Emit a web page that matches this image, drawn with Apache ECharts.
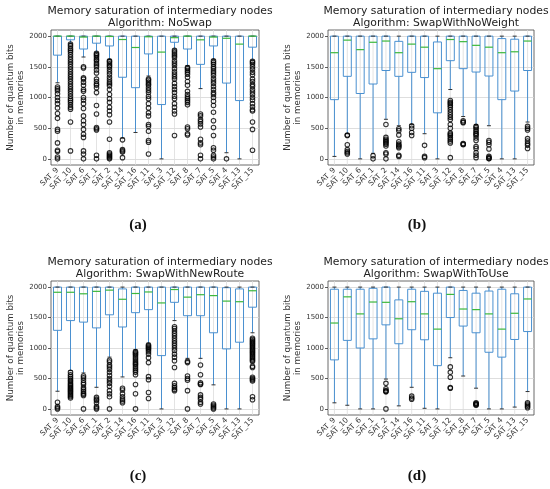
<!DOCTYPE html>
<html>
<head>
<meta charset="utf-8">
<script src="https://cdn.jsdelivr.net/npm/echarts@6/dist/echarts.min.js"></script>
<style>
  html, body { margin: 0; padding: 0; background: #fff; }
  #main { width: 550px; height: 489px; }
</style>
</head>
<body>
<div id="main"></div>
<script>
// satellites, in the order they appear on the x axis
const categories = ['SAT_9', 'SAT_10', 'SAT_6', 'SAT_1', 'SAT_2', 'SAT_14', 'SAT_16', 'SAT_11',
  'SAT_3', 'SAT_12', 'SAT_8', 'SAT_7', 'SAT_5', 'SAT_4', 'SAT_13', 'SAT_15'];
const algorithms = ['NoSwap', 'SwapWithNoWeight', 'SwapWithNewRoute', 'SwapWithToUse'];
const captions = ['(a)', '(b)', '(c)', '(d)'];
const yTicks = [0, 500, 1000, 1500, 2000];

// (a) NoSwap
const lowA = [1240, 1880, 1660, 1740, 1620, 340, 430, 1350, 0, 1790, 1520, 1145, 1620, 100, 0, 1610];
const q1A = [1690, 1940, 1790, 1885, 1840, 1330, 1160, 1710, 885, 1900, 1790, 1540, 1840, 1235, 950, 1820];
const medA = [2000, 2000, 1985, 2000, 1995, 1945, 1815, 1990, 1740, 1975, 2000, 1940, 1985, 1965, 1870, 2000];
const q3A = [2000, 2000, 2000, 2000, 2000, 2000, 2000, 2000, 2000, 2000, 2000, 2000, 2000, 2000, 2000, 2000];
const highA = [2000, 2000, 2000, 2000, 2000, 2000, 2000, 2000, 2000, 2000, 2000, 2000, 2000, 2000, 2000, 2000];
const outA = [
  [1170, 1140, 1110, 1060, 1000, 950, 900, 830, 740, 660, 480, 450, 260, 140, 120, 30, 0],
  [1870, 1840, 1800, 1770, 1740, 1700, 1660, 1620, 1580, 1540, 1500, 1460, 1420, 1380, 1340, 1300, 1260,
    1220, 1180, 1140, 1100, 1060, 1020, 980, 950, 920, 880, 840, 810, 600, 130],
  [1500, 1480, 1320, 1300, 1250, 1200, 1130, 1100, 1000, 960, 900, 820, 700, 620, 560, 480, 400, 350, 130, 80, 0],
  [1720, 1700, 1680, 1650, 1620, 1600, 1560, 1530, 1500, 1450, 1400, 1300, 1260, 1220, 1200, 1160, 1080,
    870, 730, 510, 490, 470, 60, 0],
  [1600, 1580, 1550, 1520, 1500, 1460, 1420, 1380, 1330, 1290, 1250, 1220, 1190, 1130, 1050, 980, 920,
    840, 780, 720, 600, 320, 100, 80, 60, 40, 20, 0],
  [310, 150, 130, 110, 20],
  [],
  [1300, 1280, 1250, 1220, 1200, 1160, 1120, 1080, 1020, 980, 900, 830, 750, 700, 560, 530, 450, 300, 270, 80],
  [],
  [1770, 1740, 1710, 1680, 1650, 1600, 1560, 1520, 1470, 1420, 1380, 1340, 1300, 1230, 1180, 1130, 1080,
    1020, 980, 900, 840, 780, 730, 380],
  [1490, 1470, 1440, 1410, 1380, 1330, 1260, 1200, 1100, 1050, 1010, 980, 950, 920, 880, 520, 490, 410, 390],
  [730, 700, 640, 610, 570, 520, 320, 260, 230, 60, 0],
  [1600, 1570, 1540, 1500, 1470, 1430, 1400, 1360, 1310, 1270, 1230, 1180, 1130, 1080, 1050, 1000, 940,
    870, 760, 620, 510, 380, 180, 140, 60, 30, 0],
  [0],
  [],
  [1590, 1570, 1540, 1500, 1460, 1410, 1370, 1300, 1260, 1210, 1180, 1130, 1090, 1050, 1000, 960, 900,
    850, 800, 780, 600, 480, 140]
];

// (b) SwapWithNoWeight
const lowB = [40, 410, 0, 90, 645, 540, 560, 410, 0, 1130, 690, 560, 540, 0, 0, 600];
const q1B = [965, 1345, 1065, 1220, 1440, 1345, 1410, 1325, 750, 1600, 1470, 1415, 1350, 965, 1105, 1440];
const medB = [1730, 1935, 1780, 1900, 1920, 1730, 1870, 1820, 1470, 1945, 1910, 1850, 1820, 1730, 1745, 1920];
const q3B = [2000, 2000, 2000, 2000, 2000, 1915, 2000, 2000, 1905, 2000, 2000, 2000, 2000, 1960, 1950, 2000];
const highB = [2000, 2000, 2000, 2000, 2000, 2000, 2000, 2000, 2000, 2000, 2000, 2000, 2000, 2000, 2000, 2000];
const outB = [
  [],
  [390, 380, 230, 150, 120, 100, 80],
  [],
  [50, 0],
  [560, 350, 320, 300, 280, 260, 240, 210, 100, 80, 0],
  [490, 460, 390, 280, 240, 220, 200, 180, 60, 40],
  [540, 500, 430, 380],
  [220, 40, 20],
  [],
  [950, 920, 900, 870, 840, 800, 760, 720, 680, 640, 560, 500, 420, 400, 380, 350, 320, 290, 260, 20],
  [620, 600, 590, 250, 240, 230],
  [530, 510, 480, 450, 420, 400, 380, 340, 300, 200, 170, 100, 60, 20],
  [300, 270, 230, 160, 40, 20, 10, 0],
  [],
  [],
  [530, 500, 470, 330, 290, 250, 220, 170]
];

// (c) SwapWithNewRoute
const lowC = [290, 630, 590, 355, 850, 525, 970, 1080, 0, 1450, 830, 830, 395, 0, 0, 1250];
const q1C = [1290, 1450, 1425, 1330, 1545, 1345, 1580, 1630, 875, 1750, 1530, 1530, 1250, 985, 1095, 1670];
const medC = [1915, 1915, 1890, 1930, 1950, 1800, 1895, 1920, 1740, 1960, 1835, 1875, 1860, 1770, 1760, 1940];
const q3C = [2000, 2000, 2000, 2000, 2000, 1970, 2000, 2000, 2000, 2000, 2000, 2000, 2000, 1990, 1970, 2000];
const highC = [2000, 2000, 2000, 2000, 2000, 2000, 2000, 2000, 2000, 2000, 2000, 2000, 2000, 2000, 2000, 2000];
const outC = [
  [110, 40, 20, 0],
  [600, 560, 530, 500, 470, 450, 420, 400, 380, 360, 340, 320, 300, 280, 260, 240, 220, 200, 180],
  [540, 510, 470, 430, 400, 350, 320, 290, 260, 240, 220, 0],
  [190, 160, 140, 100, 40, 20, 0],
  [800, 770, 720, 690, 650, 600, 550, 500, 460, 420, 370, 300, 250, 200, 0],
  [340, 310, 250, 200, 160, 130, 100],
  [940, 920, 900, 880, 850, 820, 790, 760, 740, 720, 690, 660, 630, 600, 560, 400, 250, 0],
  [1050, 1030, 1010, 990, 970, 940, 900, 840, 760, 530, 480, 270, 170],
  [],
  [1350, 1320, 1280, 1240, 1200, 1160, 1120, 1080, 1040, 1000, 960, 900, 850, 790, 680, 420, 380, 350, 320, 300],
  [780, 760, 540, 500, 470, 300, 0],
  [720, 560, 430, 410, 400, 230, 190, 160, 110, 80],
  [80, 60, 40, 20, 0],
  [],
  [],
  [1160, 1140, 1120, 1100, 1080, 1060, 1040, 1020, 1000, 980, 960, 940, 920, 900, 880, 860, 840, 820,
    800, 780, 700, 680, 520, 500, 480, 460, 200, 150]
];

// (d) SwapWithToUse
const lowD = [100, 60, 0, 0, 490, 50, 355, 10, 0, 840, 540, 340, 0, 0, 30, 285];
const q1D = [805, 1125, 1000, 1150, 1380, 1070, 1300, 1135, 710, 1500, 1360, 1250, 930, 850, 1140, 1270];
const medD = [1410, 1840, 1560, 1755, 1750, 1480, 1760, 1560, 1310, 1880, 1640, 1630, 1560, 1310, 1570, 1805];
const q3D = [1965, 1965, 1965, 1980, 2000, 1790, 1965, 1930, 1900, 2000, 1945, 1900, 1935, 1965, 1890, 2000];
const highD = [2000, 2000, 2000, 2000, 2000, 2000, 2000, 2000, 2000, 2000, 2000, 2000, 2000, 2000, 2000, 2000];
const outD = [
  [], [], [], [],
  [420, 330, 300, 290, 280, 0],
  [],
  [210, 180, 160],
  [], [],
  [690, 600, 520, 350, 340],
  [],
  [100, 90, 80, 70, 60],
  [], [], [],
  [100, 80, 60, 40, 20]
];

const panels = [
  [lowA, q1A, medA, q3A, highA, outA],
  [lowB, q1B, medB, q3B, highB, outB],
  [lowC, q1C, medC, q3C, highC, outC],
  [lowD, q1D, medD, q3D, highD, outD]
];

const myChart = echarts.init(document.getElementById('main'));

const FONT = 'DejaVu Sans';
const BLUE = '#4a90d0';
const GREEN = '#3cb83c';
const gridPos = [
  { left: 51, top: 30, width: 208, height: 135 },
  { left: 328, top: 30, width: 206, height: 135 },
  { left: 51, top: 281, width: 208, height: 134 },
  { left: 328, top: 281, width: 206, height: 134 }
];
const captionPos = [[133, 213], [412, 213], [133, 464], [412, 464]];

// box, whiskers, caps and median drawn through the axes' own coord()
function renderBox(params, api) {
  const idx = api.value(0);
  const low = api.coord([idx, api.value(1)]);
  const q1 = api.coord([idx, api.value(2)]);
  const med = api.coord([idx, api.value(3)]);
  const q3 = api.coord([idx, api.value(4)]);
  const high = api.coord([idx, api.value(5)]);
  const cs = params.coordSys;
  const bw = api.size([1, 0])[0] * 0.62;
  const cw = bw / 2;
  const x = low[0];
  const blue = { stroke: BLUE, lineWidth: 1, fill: null };
  return {
    type: 'group',
    children: [
      { type: 'line', shape: { x1: x, y1: cs.y, x2: x, y2: cs.y + cs.height },
        style: { stroke: '#dcdcdc', lineWidth: 0.8 } },
      { type: 'rect', shape: { x: x - bw / 2, y: q3[1], width: bw, height: q1[1] - q3[1] }, style: blue },
      { type: 'line', shape: { x1: x, y1: q1[1], x2: x, y2: low[1] }, style: blue },
      { type: 'line', shape: { x1: x, y1: q3[1], x2: x, y2: high[1] }, style: blue },
      { type: 'line', shape: { x1: x - cw / 2, y1: low[1], x2: x + cw / 2, y2: low[1] },
        style: { stroke: '#333', lineWidth: 1 } },
      { type: 'line', shape: { x1: x - cw / 2, y1: high[1], x2: x + cw / 2, y2: high[1] },
        style: { stroke: '#333', lineWidth: 1 } },
      { type: 'line', shape: { x1: x - bw / 2, y1: med[1], x2: x + bw / 2, y2: med[1] },
        style: { stroke: GREEN, lineWidth: 1.2 } }
    ]
  };
}

const titles = [];
const grids = [];
const xAxes = [];
const yAxes = [];
const series = [];

panels.forEach((p, i) => {
  const [low, q1, med, q3, high, out] = p;
  const g = gridPos[i];
  grids.push(Object.assign({
    show: true, borderColor: '#444', borderWidth: 0.8, backgroundColor: 'transparent'
  }, g));
  titles.push({
    text: 'Memory saturation of intermediary nodes\nAlgorithm: ' + algorithms[i],
    left: g.left + g.width / 2,
    top: g.top - 30,
    textAlign: 'center',
    textStyle: { fontFamily: FONT, fontSize: 10.8, fontWeight: 'normal', color: '#222', lineHeight: 12 }
  });
  titles.push({
    text: captions[i],
    left: captionPos[i][0],
    top: captionPos[i][1],
    textAlign: 'center',
    textStyle: { fontFamily: 'Liberation Serif', fontSize: 15, fontWeight: 'bold', color: '#111' }
  });
  xAxes.push({
    type: 'category', gridIndex: i, data: categories,
    axisLine: { show: false },
    axisTick: { alignWithLabel: true, length: 3, lineStyle: { color: '#333', width: 0.8 } },
    axisLabel: { interval: 0, rotate: 45, fontSize: 7.5, fontFamily: FONT, color: '#333', margin: 4 },
    splitLine: { show: false }
  });
  yAxes.push({
    type: 'value', gridIndex: i, min: -100, max: 2100,
    name: 'Number of quantum bits\nin memories',
    nameLocation: 'middle', nameGap: 20,
    nameTextStyle: { fontFamily: FONT, fontSize: 8.7, color: '#333', lineHeight: 10 },
    axisLine: { show: false },
    axisTick: { show: true, length: 3, customValues: yTicks, lineStyle: { color: '#333', width: 0.8 } },
    axisLabel: {
      fontSize: 7, fontFamily: FONT, color: '#333', margin: 4, customValues: yTicks,
      formatter: v => String(v)
    },
    splitLine: { show: true, lineStyle: { color: '#d6d6d6', width: 0.8 } }
  });
  series.push({
    type: 'custom', xAxisIndex: i, yAxisIndex: i, z: 2, silent: true,
    renderItem: renderBox,
    encode: { x: 0, y: [1, 2, 3, 4, 5] },
    data: categories.map((c, k) => [k, low[k], q1[k], med[k], q3[k], high[k]])
  });
  const pts = [];
  out.forEach((vals, k) => vals.forEach(v => pts.push([k, v])));
  series.push({
    type: 'scatter', xAxisIndex: i, yAxisIndex: i, z: 3, silent: true,
    symbol: 'circle', symbolSize: 4.5,
    itemStyle: { color: 'rgba(0,0,0,0)', borderColor: '#000', borderWidth: 1.1 },
    data: pts
  });
});

const option = {
  animation: false,
  backgroundColor: '#fff',
  title: titles,
  grid: grids,
  xAxis: xAxes,
  yAxis: yAxes,
  series: series
};

myChart.setOption(option);
</script>
</body>
</html>
